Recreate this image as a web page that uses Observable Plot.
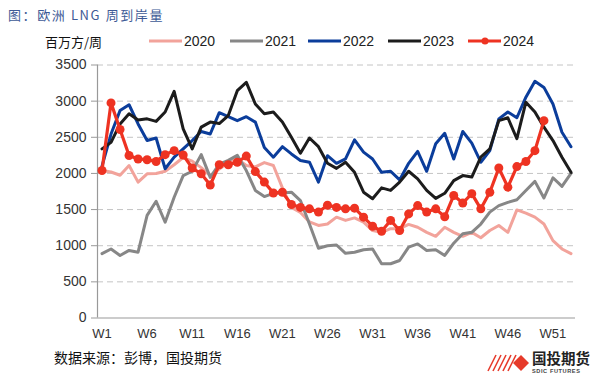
<!DOCTYPE html>
<html>
<head>
<meta charset="utf-8">
<script src="https://cdn.jsdelivr.net/npm/d3@7"></script>
<script src="https://cdn.jsdelivr.net/npm/@observablehq/plot@0.6"></script>
<style>
  html, body { margin: 0; padding: 0; background: #fff; }
  body { width: 596px; height: 380px; position: relative; overflow: hidden;
         font-family: "Liberation Sans", Arial, "Noto Sans CJK SC", sans-serif; }
  .abs { position: absolute; white-space: nowrap; }
  #title { left: 8px; top: 5px; font-family: "Noto Sans CJK SC", sans-serif; font-size: 13px;
           letter-spacing: 1.6px; color: #3d5a96; }
  #unit { left: 45px; top: 32px; font-family: "Noto Sans CJK SC", sans-serif; font-size: 13px; color: #111; }
  #legend { left: 0; top: 30px; width: 596px; height: 22px; }
  #chart { left: 0; top: 50px; }
  #source { left: 54px; top: 347px; font-family: "Noto Sans CJK SC", sans-serif; font-size: 14px; color: #111; }
  #logo { left: 486px; top: 345px; }
</style>
</head>
<body>
<div id="title" class="abs">图：欧洲 LNG 周到岸量</div>
<div id="unit" class="abs">百万方/周</div>
<div id="legend" class="abs"></div>
<div id="chart" class="abs"></div>
<div id="source" class="abs">数据来源：彭博，国投期货</div>
<div id="logo" class="abs"></div>
<script>
// ---- data ----
const series = ["2020", "2021", "2022", "2023", "2024"];
const colors = ["#f2a39b", "#878787", "#0b3d9b", "#1c1c1c", "#ee3322"];
const weekTicks = [1, 6, 11, 16, 21, 26, 31, 36, 41, 46, 51];
const yTicks = [0, 500, 1000, 1500, 2000, 2500, 3000, 3500];

const v2020 = [2040, 2020, 1975, 2110, 1880, 1995, 2000, 2030, 2120, 2220,
               2170, 2080, 1970, 2060, 2150, 2200, 2110, 2090, 2150, 2110,
               1800, 1530, 1460, 1330, 1280, 1300, 1395, 1350, 1385, 1325,
               1210, 1185, 1235, 1235, 1295, 1255, 1185, 1130, 1255, 1185,
               1130, 1185, 1110, 1210, 1280, 1185, 1495, 1450, 1395, 1300,
               1070, 955, 890];
const v2021 = [890, 955, 865, 935, 910, 1420, 1615, 1325, 1670, 1970,
               2030, 2260, 1945, 2130, 2180, 2250, 2040, 1765, 1680, 1725,
               1730, 1740, 1625, 1300, 965, 1000, 1010, 895, 910, 945,
               955, 750, 750, 795, 980, 1025, 935, 945, 865, 1035,
               1165, 1185, 1300, 1465, 1555, 1600, 1635, 1765, 1890, 1660,
               1940, 1820, 2000];
const v2022 = [2100, 2545, 2870, 2950, 2685, 2455, 2490, 2065, 2225, 2340,
               2455, 2580, 2545, 2840, 2785, 2730, 2785, 2710, 2360, 2225,
               2370, 2270, 2180, 2155, 1880, 2245, 2140, 2200, 2465, 2295,
               2200, 2015, 2030, 1910, 2140, 2305, 2030, 2410, 2555, 2200,
               2580, 2420, 2155, 2315, 2755, 2850, 2770, 3055, 3275, 3190,
               2960, 2570, 2370];
const v2023 = [2340, 2430, 2685, 2825, 2740, 2755, 2720, 2850, 3135, 2615,
               2340, 2640, 2710, 2690, 2800, 3145, 3260, 2960, 2825, 2850,
               2710, 2500, 2280, 2490, 2370, 2140, 2070, 2155, 2015, 1740,
               1650, 1800, 1765, 1880, 2030, 1925, 1765, 1655, 1725, 1900,
               1970, 1950, 2225, 2340, 2730, 2770, 2480, 2985, 2850, 2640,
               2455, 2225, 2015];
const v2024 = [2040, 2976, 2607, 2248, 2200, 2190, 2165, 2260, 2315, 2255,
               2075, 1995, 1840, 2120, 2120, 2155, 2240, 2025, 1880, 1730,
               1740, 1570, 1530, 1510, 1465, 1560, 1530, 1510, 1520, 1395,
               1270, 1200, 1350, 1210, 1440, 1555, 1465, 1510, 1400, 1695,
               1590, 1720, 1510, 1740, 2075, 1810, 2095, 2165, 2315, 2730];

const allValues = [v2020, v2021, v2022, v2023, v2024];
const rows = allValues.map((vals, i) => vals.map((v, j) => ({series: series[i], week: j + 1, value: v})));

// ---- chart ----
const lineMarks = rows.map((r, i) =>
  Plot.line(r, {x: "week", y: "value", stroke: colors[i], strokeWidth: i === 4 ? 3.2 : 3, strokeLinejoin: "round"})
);

const chart = Plot.plot({
  width: 596,
  height: 295,
  marginLeft: 97,
  marginRight: 21,
  marginTop: 14.5,
  marginBottom: 27.5,
  style: {fontFamily: "'Liberation Sans', Arial, sans-serif", color: "#333", background: "transparent"},
  x: {type: "linear", domain: [0.5, 53.5]},
  y: {domain: [0, 3500]},
  marks: [
    Plot.gridY(yTicks.filter(d => d > 0), {stroke: "#c4c4c4", strokeOpacity: 1, strokeDasharray: "6,4", strokeWidth: 1}),
    Plot.axisY(yTicks, {tickSize: 6, tickPadding: 5, fontSize: 14, stroke: "#999", label: null, fill: "#333", tickFormat: d => String(d)}),
    Plot.axisX(weekTicks, {tickSize: 0, tickPadding: 11, fontSize: 13, tickFormat: d => "W" + d, label: null, fill: "#333"}),
    Plot.ruleX([0.5], {y1: 0, y2: 3500, stroke: "#999", strokeWidth: 1.2}),
    Plot.ruleY([0], {stroke: "#999", strokeWidth: 1.2}),
    ...lineMarks,
    Plot.dot(rows[4], {x: "week", y: "value", r: 4.5, fill: colors[4], stroke: "none"})
  ]
});
document.getElementById("chart").appendChild(chart);

// ---- legend ----
const legendX = [149, 230, 308, 388, 468];
const ns = "http://www.w3.org/2000/svg";
const lsvg = document.createElementNS(ns, "svg");
lsvg.setAttribute("width", 596); lsvg.setAttribute("height", 22);
series.forEach((s, i) => {
  const x0 = legendX[i];
  const ln = document.createElementNS(ns, "line");
  ln.setAttribute("x1", x0); ln.setAttribute("x2", x0 + 33);
  ln.setAttribute("y1", 11); ln.setAttribute("y2", 11);
  ln.setAttribute("stroke", colors[i]); ln.setAttribute("stroke-width", 3);
  lsvg.appendChild(ln);
  if (i === 4) {
    const c = document.createElementNS(ns, "circle");
    c.setAttribute("cx", x0 + 17); c.setAttribute("cy", 11); c.setAttribute("r", 3.5);
    c.setAttribute("fill", colors[i]);
    lsvg.appendChild(c);
  }
  const t = document.createElementNS(ns, "text");
  t.setAttribute("x", x0 + 35); t.setAttribute("y", 16);
  t.setAttribute("font-size", 14); t.setAttribute("fill", "#222");
  t.setAttribute("font-family", "'Liberation Sans', Arial, sans-serif");
  t.textContent = s;
  lsvg.appendChild(t);
});
document.getElementById("legend").appendChild(lsvg);

// ---- logo ----
const logo = document.createElementNS(ns, "svg");
logo.setAttribute("width", 110); logo.setAttribute("height", 32);
for (let k = 0; k < 5; k++) {
  const p = document.createElementNS(ns, "line");
  p.setAttribute("x1", 2 + k * 5); p.setAttribute("y1", 26);
  p.setAttribute("x2", 10 + k * 5); p.setAttribute("y2", 10);
  p.setAttribute("stroke", "#e63a2a"); p.setAttribute("stroke-width", 1.6);
  logo.appendChild(p);
}
const dia = document.createElementNS(ns, "polygon");
dia.setAttribute("points", "27,18 35,10 43,18 35,26");
dia.setAttribute("fill", "#e63a2a");
logo.appendChild(dia);
const lt = document.createElementNS(ns, "text");
lt.setAttribute("x", 46); lt.setAttribute("y", 19);
lt.setAttribute("font-size", 14.5); lt.setAttribute("font-weight", "bold");
lt.setAttribute("fill", "#222"); lt.setAttribute("font-family", "'Noto Sans CJK SC', sans-serif");
lt.textContent = "国投期货";
logo.appendChild(lt);
const le = document.createElementNS(ns, "text");
le.setAttribute("x", 46); le.setAttribute("y", 28);
le.setAttribute("font-size", 5.6); le.setAttribute("font-weight", "bold");
le.setAttribute("fill", "#444"); le.setAttribute("letter-spacing", "0.6");
le.setAttribute("font-family", "'Liberation Sans', Arial, sans-serif");
le.textContent = "SDIC FUTURES";
logo.appendChild(le);
document.getElementById("logo").appendChild(logo);
</script>
</body>
</html>
